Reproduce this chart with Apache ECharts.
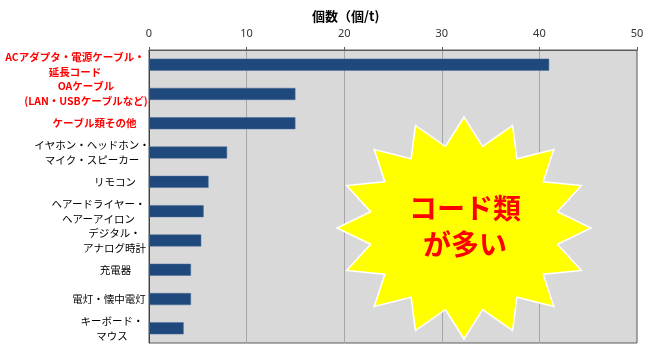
<!DOCTYPE html>
<html>
<head>
<meta charset="utf-8">
<script src="https://cdn.jsdelivr.net/npm/echarts@6/dist/echarts.min.js"></script>
<style>
html,body{margin:0;padding:0;background:#fff;}
#chart{width:669px;height:350px;}
</style>
</head>
<body>
<div id="chart"></div>
<script>
// ---- data ----
const categories = [
  'ACアダプタ・電源ケーブル・\n延長コード',
  'OAケーブル\n(LAN・USBケーブルなど)',
  'ケーブル類その他',
  'イヤホン・ヘッドホン・\nマイク・スピーカー',
  'リモコン',
  'ヘアードライヤー・\nヘアーアイロン',
  'デジタル・\nアナログ時計',
  '充電器',
  '電灯・懐中電灯',
  'キーボード・\nマウス'
];
const values = [41.0, 15.0, 15.0, 8.0, 6.1, 5.6, 5.35, 4.3, 4.3, 3.55];
const highlighted = [true, true, true, false, false, false, false, false, false, false];
const xTicks = [0, 10, 20, 30, 40, 50];
const axisTitle = '個数（個/t)';
const calloutText = 'コード類\nが多い';

// ---- layout / style ----
const labelBlockWidths = [144, 122, 105, 110, 64, 97, 65, 63, 76, 70];
const rich = {};
categories.forEach((c, i) => {
  rich['r' + i] = {
    width: labelBlockWidths[i],
    align: 'center',
    fontSize: highlighted[i] ? 10.5 : 10.5,
    fontWeight: highlighted[i] ? 'bold' : 'normal',
    color: highlighted[i] ? '#ff0000' : '#000000',
    fontFamily: '"Noto Sans CJK JP", sans-serif',
    lineHeight: 15
  };
});

const chart = echarts.init(document.getElementById('chart'), null, {renderer: 'canvas'});

// star burst shape (annotation)
const cx = 464, cy = 228, rx = 127, ry = 111, nPts = 16, innerRatio = 0.75;
const starPts = [];
for (let k = 0; k < nPts * 2; k++) {
  const a = -Math.PI / 2 + k * Math.PI / nPts;
  const r = (k % 2 === 0) ? 1 : innerRatio;
  starPts.push([cx + rx * r * Math.cos(a), cy + ry * r * Math.sin(a)]);
}

chart.setOption({
  animation: false,
  backgroundColor: '#ffffff',
  title: {
    text: axisTitle,
    left: 307,
    top: 5,
    textStyle: {fontSize: 13, fontWeight: 'bold', color: '#000', fontFamily: '"Noto Sans CJK JP", sans-serif'}
  },
  grid: {
    left: 149, right: 32, top: 50, bottom: 7,
    show: true, backgroundColor: '#d9d9d9', borderColor: '#5a5a5a', borderWidth: 1
  },
  xAxis: {
    type: 'value',
    position: 'top',
    min: xTicks[0],
    max: xTicks[xTicks.length - 1],
    interval: xTicks[1] - xTicks[0],
    axisLine: {show: true, lineStyle: {color: '#5a5a5a'}},
    axisTick: {show: true, length: 3, lineStyle: {color: '#5a5a5a'}},
    axisLabel: {margin: 11, fontSize: 11, color: '#333', fontFamily: '"Noto Sans", sans-serif'},
    splitLine: {show: true, lineStyle: {color: '#a6a6a6', width: 1}}
  },
  yAxis: {
    type: 'category',
    inverse: true,
    data: categories,
    axisLine: {show: true, lineStyle: {color: '#404040'}},
    axisTick: {show: false},
    axisLabel: {
      margin: 2,
      interval: 0,
      formatter: function (v, i) {
        return v.split('\n').map(l => '{r' + i + '|' + l + '}').join('\n');
      },
      rich: rich
    }
  },
  series: [{
    type: 'bar',
    data: values,
    barWidth: 12,
    itemStyle: {color: '#1f497d', borderColor: '#4a6d99', borderWidth: 0.5},
    z: 2
  }],
  graphic: [
    {
      type: 'polygon',
      z: 100,
      shape: {points: starPts},
      style: {fill: '#ffff00', stroke: '#ffffff', lineWidth: 1.5}
    },
    {
      type: 'text',
      z: 101,
      x: 465,
      y: 226,
      style: {
        text: calloutText,
        fill: '#ff0000',
        font: 'bold 28px "Noto Sans CJK JP", sans-serif',
        align: 'center',
        verticalAlign: 'middle',
        lineHeight: 36
      }
    }
  ]
});
</script>
</body>
</html>
